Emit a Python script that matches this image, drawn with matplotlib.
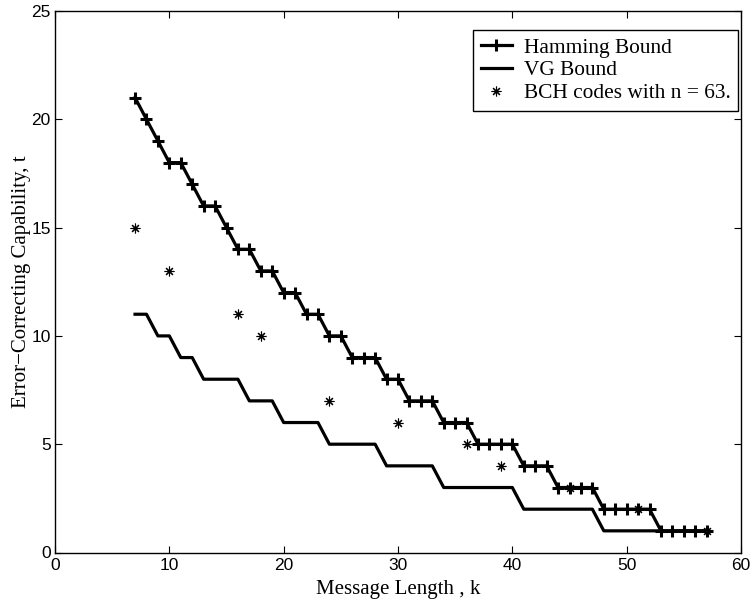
import matplotlib
matplotlib.use("Agg")
import matplotlib.pyplot as plt

k_hamming = list(range(7, 58))
t_hamming = [21, 20, 19, 18, 18, 17, 16, 16, 15, 14, 14, 13, 13, 12, 12, 11, 11,
             10, 10, 9, 9, 9, 8, 8, 7, 7, 7, 6, 6, 6, 5, 5, 5, 5, 4, 4, 4,
             3, 3, 3, 3, 2, 2, 2, 2, 2, 1, 1, 1, 1, 1]

k_vg = list(range(7, 58))
t_vg = [11, 11, 10, 10, 9, 9, 8, 8, 8, 8, 7, 7, 7, 6, 6, 6, 6, 5, 5, 5, 5, 5,
        4, 4, 4, 4, 4, 3, 3, 3, 3, 3, 3, 3, 2, 2, 2, 2, 2, 2, 2,
        1, 1, 1, 1, 1, 1, 1, 1, 1, 1]

k_bch = [7, 10, 16, 18, 24, 30, 36, 39, 45, 51, 57]
t_bch = [15, 13, 11, 10, 7, 6, 5, 4, 3, 2, 1]

x_ticks = [0, 10, 20, 30, 40, 50, 60]
y_ticks = [0, 5, 10, 15, 20, 25]

serif = ["Liberation Serif", "DejaVu Serif"]
sans = ["Liberation Sans", "DejaVu Sans"]

fig = plt.figure(figsize=(7.52, 6.10), dpi=100)
ax = fig.add_axes([55 / 752, 1 - 552.5 / 610, (741 - 55) / 752, (552.5 - 11) / 610])

ax.plot(k_hamming, t_hamming, color="black", lw=2.3, marker="+", ms=8, mew=2.2,
        label="Hamming Bound")
ax.plot(k_vg, t_vg, color="black", lw=2.3, label="VG Bound")
ax.plot(k_bch, t_bch, linestyle="none", color="black", marker=(8, 2, 0), ms=7,
        mew=0.8, label="BCH codes with n = 63.")

ax.set_xlim(0, 60)
ax.set_ylim(0, 25)
ax.set_xticks(x_ticks)
ax.set_yticks(y_ticks)
ax.tick_params(direction="in", length=5, width=0.8, top=True, right=True,
               labelsize=12.5)
for lbl in ax.get_xticklabels() + ax.get_yticklabels():
    lbl.set_fontfamily(sans)
ax.tick_params(axis="x", pad=4)
ax.tick_params(axis="y", pad=3)
for s in ax.spines.values():
    s.set_linewidth(1.0)

ax.set_xlabel("Message Length , k", fontsize=15, family=serif, labelpad=5)
ax.set_ylabel("Error\u2212Correcting Capability, t", fontsize=15, family=serif, labelpad=0)

leg = ax.legend(loc="upper right", bbox_to_anchor=(0.9955, 0.964), prop={"family": serif, "size": 15.4},
                frameon=True, fancybox=False, edgecolor="black", framealpha=1,
                borderpad=0.35, labelspacing=0.12, handlelength=1.45, handletextpad=0.56,
                borderaxespad=0.0)
leg.get_frame().set_linewidth(1.0)

fig.savefig("out.png", dpi=100)
